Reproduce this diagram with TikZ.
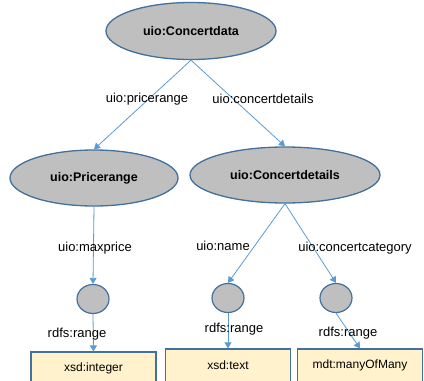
\documentclass[tikz,border=0pt]{standalone}
\usepackage{fontspec}
\setmainfont{Liberation Sans}
\usetikzlibrary{shapes.geometric,arrows.meta}
\definecolor{edgeblue}{HTML}{5B9BD5}
\definecolor{rimblue}{HTML}{41719C}
\definecolor{nodegray}{HTML}{BFBFBF}
\definecolor{boxfill}{HTML}{FFF2CC}
\tikzset{
  classnode/.style={ellipse, draw=rimblue, line width=1.3pt, fill=nodegray, inner sep=0pt,
    font=\fontsize{12.5}{14}\selectfont\bfseries},
  blanknode/.style={ellipse, draw=rimblue, line width=1.2pt, fill=nodegray, inner sep=0pt,
    minimum width=32pt, minimum height=29pt},
  typebox/.style={rectangle, draw=rimblue, line width=1.2pt, fill=boxfill, inner sep=0pt,
    minimum width=125pt, font=\fontsize{12}{14}\selectfont},
  proplabel/.style={inner sep=0pt, font=\fontsize{13}{15}\selectfont},
  rel/.style={draw=edgeblue, line width=0.8pt, -{Triangle[length=6pt,width=7pt]}}
}
\begin{document}
\begin{tikzpicture}[x=1pt,y=-1pt]
\clip (0,0) rectangle (424,381);
\fill[white] (0,0) rectangle (424,381);
\node[classnode, minimum width=170pt, minimum height=57pt] (cd) at (191,31) {uio:Concertdata};
\node[classnode, minimum width=168pt, minimum height=56pt] (pr) at (94,178) {uio:Pricerange};
\node[classnode, minimum width=190pt, minimum height=56pt] (det) at (285,175) {uio:Concertdetails};
\node[blanknode] (c1) at (93,299) {};
\node[blanknode] (c2) at (228,298) {};
\node[blanknode] (c3) at (336,298) {};
\node[typebox, minimum height=32pt] (b1) at (93.5,368) {xsd:integer};
\node[typebox, minimum height=33pt] (b2) at (228,365.5) {xsd:text};
\node[typebox, minimum height=33pt] (b3) at (360,365.5) {mdt:manyOfMany};
\draw[rel] (cd.south) -- (pr.north);
\draw[rel] (cd.south) -- (det.north);
\draw[rel] (pr.south) -- (c1.north);
\draw[rel] (det.south) -- (c2.north);
\draw[rel] (det.south) -- (c3.north);
\draw[rel] (c1.south) -- (b1.north);
\draw[rel] (c2.south) -- (b2.north);
\draw[rel] (c3.south) -- (b3.north);
\node[proplabel] (l1) at (147,99) {uio:pricerange};
\node[proplabel] (l2) at (263,99) {uio:concertdetails};
\node[proplabel] (l3) at (95,248) {uio:maxprice};
\node[proplabel] (l4) at (223,246) {uio:name};
\node[proplabel] (l5) at (355,248) {uio:concertcategory};
\node[proplabel] (l6) at (77,334) {rdfs:range};
\node[proplabel] (l7) at (234,329) {rdfs:range};
\node[proplabel] (l8) at (348,333) {rdfs:range};
\end{tikzpicture}
\end{document}
